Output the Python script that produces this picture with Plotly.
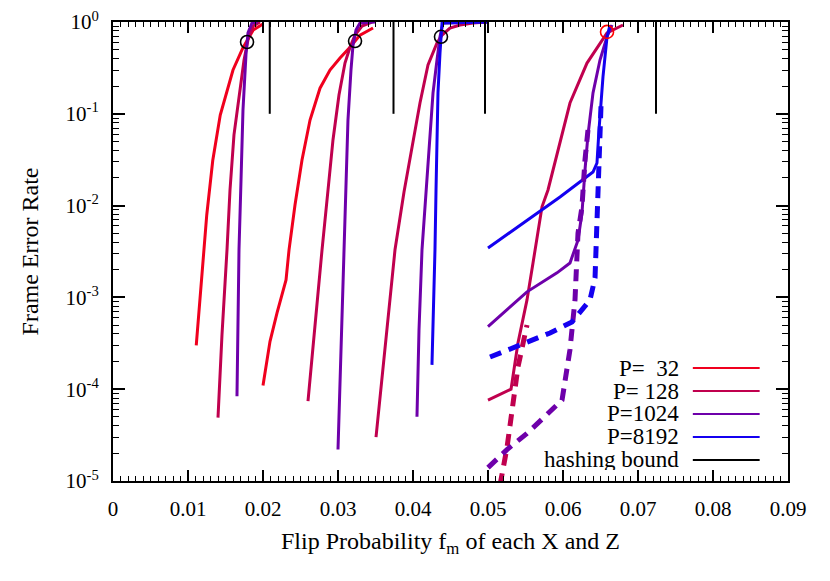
import plotly.graph_objects as go

# colours of the block sizes
C32 = "#f0001e"
C128 = "#c0004e"
C1024 = "#6e00aa"
C8192 = "#1400f0"

# ---- group 1 (bound 0.0209)
g1_p32_x = [0.0111, 0.0117, 0.0125, 0.0133, 0.0143, 0.0160, 0.0173, 0.0187, 0.0200]
g1_p32_y = [3.0e-4, 1.2e-3, 7.9e-3, 0.031, 0.097, 0.30, 0.52, 0.82, 0.95]
g1_p128_x = [0.0140, 0.01453, 0.0152, 0.0156, 0.01613, 0.01693, 0.01747, 0.0180, 0.01867, 0.0196]
g1_p128_y = [4.9e-5, 3.9e-4, 3.3e-3, 0.0148, 0.059, 0.169, 0.385, 0.64, 0.904, 1.0]
g1_p1024_x = [0.01653, 0.01667, 0.0168, 0.01707, 0.01733, 0.01773, 0.0180, 0.01853, 0.0193]
g1_p1024_y = [8.4e-5, 5.7e-4, 3.3e-3, 0.019, 0.11, 0.44, 0.76, 0.975, 1.0]

# ---- group 2 (bound 0.0374)
g2_p32_x = [0.0200, 0.02093, 0.02187, 0.02307, 0.02347, 0.02427, 0.0252, 0.02627, 0.0276,
            0.02893, 0.03027, 0.0316, 0.03293, 0.03467]
g2_p32_y = [1.1e-4, 3.3e-4, 6.8e-4, 1.55e-3, 3.3e-3, 0.0102, 0.0314, 0.0855, 0.19,
            0.30, 0.405, 0.53, 0.72, 0.86]
g2_p128_x = [0.026, 0.02693, 0.02787, 0.02867, 0.02933, 0.03013, 0.03093, 0.0316, 0.03227, 0.0332, 0.03453]
g2_p128_y = [7.4e-5, 5.4e-4, 3.3e-3, 0.0148, 0.0519, 0.16, 0.357, 0.53, 0.72, 0.904, 1.0]
g2_p1024_x = [0.030, 0.0304, 0.0308, 0.03107, 0.03133, 0.03173, 0.0320, 0.0324, 0.03293, 0.03493]
g2_p1024_y = [2.2e-5, 2.7e-4, 3.3e-3, 0.019, 0.0855, 0.30, 0.56, 0.82, 0.975, 1.0]

# ---- group 3 (bound 0.0496)
g3_p128_x = [0.03507, 0.03627, 0.0376, 0.0388, 0.0400, 0.04093, 0.0420, 0.0432, 0.04387,
             0.04493, 0.04627, 0.0480, 0.04987]
g3_p128_y = [3.0e-5, 3.0e-4, 3.3e-3, 0.0141, 0.0519, 0.131, 0.34, 0.59, 0.72, 0.86, 0.927, 0.975, 1.0]
g3_p1024_x = [0.04053, 0.0408, 0.0412, 0.04173, 0.04227, 0.04267, 0.0432, 0.0436, 0.0440, 0.04987]
g3_p1024_y = [5.0e-5, 4.4e-4, 3.3e-3, 0.0148, 0.0519, 0.169, 0.385, 0.69, 0.975, 1.0]
g3_p8192_x = [0.04253, 0.0428, 0.04293, 0.04307, 0.0432, 0.04333, 0.0436, 0.04387, 0.04987]
g3_p8192_y = [1.84e-4, 9.4e-4, 3.3e-3, 0.0148, 0.0519, 0.169, 0.46, 0.975, 1.0]

# ---- group 4 (bound 0.0724), solid
g4_p128_x = [0.0500, 0.05307, 0.0540, 0.0552, 0.0560, 0.0572, 0.0580, 0.0600, 0.06093,
             0.0632, 0.06493, 0.06587, 0.0680]
g4_p128_y = [7.6e-5, 1.0e-4, 3.2e-4, 9.4e-4, 2.37e-3, 9.7e-3, 0.0148, 0.0667, 0.131,
             0.357, 0.59, 0.76, 0.927]
g4_p1024_x = [0.0500, 0.0552, 0.0592, 0.06093, 0.0620, 0.06253, 0.06293, 0.06333, 0.0640,
              0.06493, 0.06587, 0.06653]
g4_p1024_y = [4.8e-4, 1.15e-3, 1.85e-3, 2.37e-3, 4.2e-3, 8.3e-3, 0.0244, 0.0588, 0.169,
              0.385, 0.69, 0.927]
g4_p8192_x = [0.0500, 0.0596, 0.0640, 0.06453, 0.0648, 0.06507, 0.06533, 0.06587, 0.06627]
g4_p8192_y = [3.45e-3, 0.0124, 0.0232, 0.0291, 0.0667, 0.141, 0.252, 0.69, 0.927]

# ---- group 4, dashed
g4d_p128_x = [0.0516, 0.05253, 0.0540, 0.0552]
g4d_p128_y = [9.0e-6, 2.3e-5, 1.75e-4, 5.0e-4]
g4d_p1024_x = [0.0500, 0.05253, 0.0552, 0.05987, 0.06093, 0.0616, 0.0620, 0.06253, 0.06293, 0.06333]
g4d_p1024_y = [1.4e-5, 2.2e-5, 3.3e-5, 7.6e-5, 2.7e-4, 9.4e-4, 5.0e-3, 9.7e-3, 0.0314, 0.0667]
g4d_p8192_x = [0.05027, 0.0552, 0.05827, 0.0612, 0.0636, 0.06427, 0.06453, 0.06467, 0.06493, 0.06507]
g4d_p8192_y = [2.24e-4, 3.2e-4, 4.1e-4, 5.4e-4, 9.4e-4, 1.63e-3, 5.4e-3, 0.019, 0.0667, 0.125]

# hashing bounds and marked points
hash_x = [0.0209, 0.0374, 0.0496, 0.0724]
circ_x = [0.01787, 0.03227, 0.04373]
circ_y = [0.605, 0.62, 0.69]
red_circ_x = [0.06587]
red_circ_y = [0.78]

legend_labels = ["P=\u00a0\u00a032", "P=\u00a0128", "P=1024", "P=8192", "hashing bound"]
legend_colors = [C32, C128, C1024, C8192, "black"]

yticks = [1e-5, 1e-4, 1e-3, 1e-2, 1e-1, 1]
ytext = ["10<sup>-5</sup>", "10<sup>-4</sup>", "10<sup>-3</sup>", "10<sup>-2</sup>",
         "10<sup>-1</sup>", "10<sup>0</sup>"]

FONT = "Liberation Serif, Times New Roman, Times, DejaVu Serif, serif"

fig = go.Figure()


def add_curve(x, y, color, dash="solid", width=3):
    fig.add_trace(go.Scatter(x=x, y=y, mode="lines", showlegend=False, hoverinfo="skip",
                             line=dict(color=color, width=width, dash=dash)))


add_curve(g1_p32_x, g1_p32_y, C32)
add_curve(g1_p128_x, g1_p128_y, C128)
add_curve(g1_p1024_x, g1_p1024_y, C1024)
add_curve(g2_p32_x, g2_p32_y, C32)
add_curve(g2_p128_x, g2_p128_y, C128)
add_curve(g2_p1024_x, g2_p1024_y, C1024)
add_curve(g3_p128_x, g3_p128_y, C128)
add_curve(g3_p1024_x, g3_p1024_y, C1024)
add_curve(g3_p8192_x, g3_p8192_y, C8192)
add_curve(g4_p128_x, g4_p128_y, C128)
add_curve(g4_p1024_x, g4_p1024_y, C1024)
add_curve(g4_p8192_x, g4_p8192_y, C8192)
add_curve(g4d_p128_x, g4d_p128_y, C128, dash="12px,8px", width=5)
add_curve(g4d_p1024_x, g4d_p1024_y, C1024, dash="12px,8px", width=5)
add_curve(g4d_p8192_x, g4d_p8192_y, C8192, dash="12px,8px", width=5)

# hashing bound: vertical segments from 1 down to 0.1
hx, hy = [], []
for b in hash_x:
    hx += [b, b, None]
    hy += [1, 0.1, None]
fig.add_trace(go.Scatter(x=hx, y=hy, mode="lines", showlegend=False, hoverinfo="skip",
                         line=dict(color="black", width=2)))

fig.add_trace(go.Scatter(x=circ_x, y=circ_y, mode="markers", showlegend=False, hoverinfo="skip",
                         marker=dict(symbol="circle-open", size=13, color="black", line=dict(width=1.6))))
fig.add_trace(go.Scatter(x=red_circ_x, y=red_circ_y, mode="markers", showlegend=False, hoverinfo="skip",
                         marker=dict(symbol="circle-open", size=13, color="red", line=dict(width=1.6))))

# legend drawn by hand (text right-aligned, sample on the right)
for i, (lab, col) in enumerate(zip(legend_labels, legend_colors)):
    yy = 0.246 - i * 0.05
    fig.add_annotation(x=0.84, y=yy, xref="paper", yref="paper", text=lab, showarrow=False,
                       xanchor="right", yanchor="middle", height=21, borderpad=0,
                       font=dict(size=23, color="black", family=FONT))
    fig.add_shape(type="line", xref="paper", yref="paper", x0=0.859, x1=0.958, y0=yy, y1=yy,
                  line=dict(color=col, width=2))

# the page has an 8px body margin, so the plot box is shifted up/left by that much
fig.update_layout(
    width=830, height=581,
    margin=dict(l=105, r=50, t=14, b=108, autoexpand=False),
    paper_bgcolor="white", plot_bgcolor="white",
    font=dict(family=FONT, size=21, color="black"),
    showlegend=False,
    xaxis=dict(range=[0, 0.09], tick0=0, dtick=0.01, ticks="inside", ticklen=11, tickwidth=1.5,
               tickcolor="black", showline=True, linecolor="black", linewidth=2, mirror="ticks",
               showgrid=False, zeroline=False, ticklabelstandoff=8, automargin=False,
               ticklabeloverflow="allow",
               minor=dict(dtick=0.001, ticks="inside", ticklen=5, tickwidth=1.2, tickcolor="black",
                          showgrid=False),
               title=dict(text="Flip Probability f<sub>m</sub> of each X and Z", standoff=12,
                          font=dict(size=24, family=FONT))),
    yaxis=dict(type="log", range=[-5, 0], tickmode="array", tickvals=yticks, ticktext=ytext,
               ticks="inside", ticklen=12, tickwidth=1.5, tickcolor="black", showline=True,
               linecolor="black", linewidth=2, mirror="ticks", showgrid=False, zeroline=False,
               ticklabelstandoff=8, automargin=False, ticklabeloverflow="allow",
               minor=dict(tickmode="array",
                          tickvals=[k * 10.0 ** d for d in range(-5, 0) for k in range(2, 10)],
                          ticks="inside", ticklen=6, tickwidth=1.2, tickcolor="black", showgrid=False),
               title=dict(text="Frame Error Rate", standoff=20, font=dict(size=24, family=FONT))),
)

fig.write_html("out.html")
